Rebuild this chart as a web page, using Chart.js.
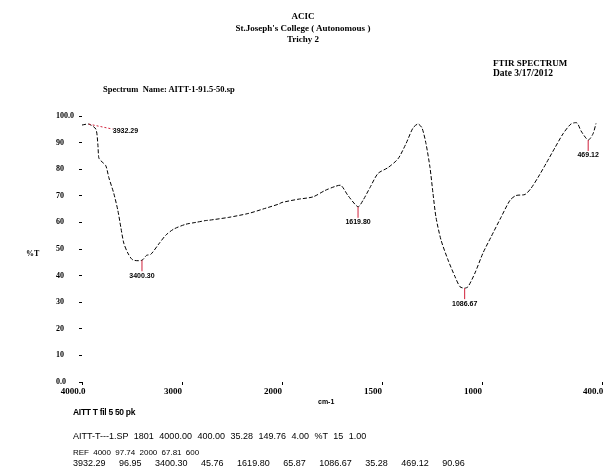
<!DOCTYPE html>
<html>
<head>
<meta charset="utf-8">
<script src="https://cdn.jsdelivr.net/npm/chart.js@4.4.1/dist/chart.umd.min.js"></script>
<style>
  html, body { margin: 0; padding: 0; background: #fff; }
  body { width: 614px; height: 475px; position: relative; overflow: hidden; }
  #chart { position: absolute; left: 0; top: 0; }
  .t { position: absolute; white-space: pre; color: #000; line-height: 1; }
  .hd { font: bold 9px "Liberation Serif", serif; }
  .ft { font: 9px "Liberation Sans", sans-serif; }
</style>
</head>
<body>
<canvas id="chart" width="614" height="475"></canvas>

<div class="t hd" style="left:0;width:606px;text-align:center;top:11px">ACIC</div>
<div class="t hd" style="left:0;width:606px;text-align:center;top:23px">St.Joseph's College ( Autonomous )</div>
<div class="t hd" style="left:0;width:606px;text-align:center;top:34px">Trichy 2</div>

<div class="t hd" style="left:493px;top:58px">FTIR SPECTRUM</div>
<div class="t hd" style="left:493px;top:68px;font-size:9.5px">Date 3/17/2012</div>
<div class="t hd" style="left:103px;top:84px;font-size:8.5px">Spectrum  Name: AITT-1-91.5-50.sp</div>

<div class="t hd" style="left:26px;top:249px;font-size:8px">%T</div>
<div class="t hd" style="left:318px;top:398px;font-size:7px;font-family:'Liberation Sans',sans-serif">cm-1</div>

<div class="t ft" style="left:73px;top:407px;font-size:8.5px;font-weight:bold;letter-spacing:-0.3px">AITT T fil 5 50 pk</div>
<div class="t ft" style="left:73px;top:431px;word-spacing:3px">AITT-T---1.SP 1801 4000.00 400.00 35.28 149.76 4.00 %T 15 1.00</div>
<div class="t ft" style="left:73px;top:448px;font-size:8px;word-spacing:2px">REF 4000 97.74 2000 67.81 600</div>
<div class="t ft" style="left:73px;top:458px;word-spacing:11px">3932.29 96.95 3400.30 45.76 1619.80 65.87 1086.67 35.28 469.12 90.96</div>

<script>
// x axis: wavenumber (cm-1), scale doubles below 2000
const X_MAX = 4000;
const X_MIN = 400;
const X_BREAK = 2000;
const X_TICKS = [4000, 3000, 2000, 1500, 1000, 400];
const Y_TICKS = [0, 10, 20, 30, 40, 50, 60, 70, 80, 90, 100];

// spectrum
const wavenumbers = [
  4000, 3932.29, 3862, 3842, 3832, 3812, 3762, 3732, 3682, 3642, 3612, 3582, 3542, 3492,
  3400.30, 3355, 3312, 3232, 3162, 3082, 2962, 2862, 2762, 2732, 2532, 2332, 2192, 2032,
  2000, 1920, 1845, 1785, 1735, 1705, 1670, 1619.80, 1595, 1560, 1520, 1470, 1420, 1380,
  1345, 1320, 1300, 1280, 1260, 1245, 1230, 1205, 1170, 1135, 1110, 1086.67, 1070, 1035,
  995, 955, 905, 860, 830, 785, 755, 720, 680, 635, 595, 555, 525, 505, 469.12, 445, 430
];
const transmittance = [
  96.6, 96.95, 95.1, 89.6, 84.3, 83.2, 81.3, 76.9, 70.9, 64.6, 58.2, 52.2, 48.5, 45.9,
  45.76, 47.6, 48.0, 51.9, 55.2, 57.5, 59.3, 60.0, 60.7, 60.8, 61.9, 63.4, 65.0, 66.9,
  67.5, 68.7, 69.6, 72.0, 73.5, 73.9, 70.1, 65.87, 68.3, 73.1, 78.4, 80.6, 83.9, 89.6,
  95.5, 97.0, 95.5, 89.6, 80.6, 70.9, 61.9, 53.4, 45.9, 39.6, 35.8, 35.28, 35.8, 41.0,
  48.5, 54.5, 61.9, 68.3, 70.1, 70.5, 72.8, 76.9, 82.1, 88.1, 93.3, 97.0, 97.4, 94.4,
  90.96, 93.3, 97.2
];

// labelled peaks
const peakWavenumbers = [3932.29, 3400.30, 1619.80, 1086.67, 469.12];
const peakTransmittance = [96.95, 45.76, 65.87, 35.28, 90.96];
const peakLabels = ["3932.29", "3400.30", "1619.80", "1086.67", "469.12"];

class FtirScale extends Chart.LinearScale {
  units(v) {
    return v >= X_BREAK ? (X_MAX - v) : (X_MAX - X_BREAK) + (X_BREAK - v) * 2;
  }
  getPixelForValue(value) {
    const total = this.units(X_MIN);
    return this.left + (this.units(value) / total) * this.width;
  }
  getValueForPixel(pixel) {
    const u = (pixel - this.left) / this.width * this.units(X_MIN);
    const first = X_MAX - X_BREAK;
    return u <= first ? X_MAX - u : X_BREAK - (u - first) / 2;
  }
}
FtirScale.id = "ftir";
FtirScale.defaults = Chart.LinearScale.defaults;
Chart.register(FtirScale);

const peakPlugin = {
  id: "peaks",
  afterDatasetsDraw(chart) {
    const { ctx, scales } = chart;
    ctx.save();
    ctx.font = "bold 7px 'Liberation Sans', sans-serif";
    ctx.fillStyle = "#000";
    peakWavenumbers.forEach((w, i) => {
      const px = scales.x.getPixelForValue(w);
      const py = scales.y.getPixelForValue(peakTransmittance[i]);
      ctx.strokeStyle = "#d0203a";
      ctx.lineWidth = 1;
      ctx.beginPath();
      if (i === 0) {
        // top peak: dashed leader off to the right
        ctx.setLineDash([2, 2]);
        ctx.moveTo(px, py);
        ctx.lineTo(px + 24, py + 5);
        ctx.stroke();
        ctx.setLineDash([]);
        ctx.textAlign = "left";
        ctx.textBaseline = "middle";
        ctx.fillText(peakLabels[i], px + 24, py + 7);
      } else {
        ctx.moveTo(px, py);
        ctx.lineTo(px, py + 11);
        ctx.stroke();
        ctx.textAlign = "center";
        ctx.textBaseline = "top";
        ctx.fillText(peakLabels[i], px, py + 12);
      }
    });
    ctx.restore();
  }
};

new Chart(document.getElementById("chart"), {
  type: "line",
  data: {
    datasets: [{
      data: wavenumbers.map((w, i) => ({ x: w, y: transmittance[i] })),
      borderColor: "#000",
      borderWidth: 1,
      borderDash: [4, 2],
      pointRadius: 0,
      tension: 0.25,
      fill: false
    }]
  },
  options: {
    responsive: false,
    animation: false,
    devicePixelRatio: 1,
    layout: { padding: { top: 116, right: 12, bottom: 67, left: 56 } },
    plugins: { legend: { display: false }, tooltip: { enabled: false } },
    scales: {
      x: {
        type: "ftir",
        min: X_MIN,
        max: X_MAX,
        afterBuildTicks: s => { s.ticks = X_TICKS.map(v => ({ value: v })); },
        afterFit: s => { s.height = 26; },
        grid: { drawOnChartArea: false, tickLength: 3, color: "#000" },
        border: { display: false },
        ticks: {
          autoSkip: false,
          maxRotation: 0,
          padding: 1,
          labelOffset: -9,
          color: "#000",
          font: { family: "Liberation Serif", size: 9, weight: "bold" },
          callback: v => (v === X_MAX || v === X_MIN) ? v.toFixed(1) : String(v)
        }
      },
      y: {
        min: 0,
        max: 100,
        afterBuildTicks: s => { s.ticks = Y_TICKS.map(v => ({ value: v })); },
        afterFit: s => { s.width = 26; },
        grid: { drawOnChartArea: false, tickLength: 3, color: "#000" },
        border: { display: false },
        ticks: {
          crossAlign: "far",
          padding: 3,
          color: "#000",
          font: { family: "Liberation Serif", size: 8, weight: "bold" },
          callback: v => (v === 0 || v === 100) ? v.toFixed(1) : String(v)
        }
      }
    }
  },
  plugins: [peakPlugin]
});
</script>
</body>
</html>
